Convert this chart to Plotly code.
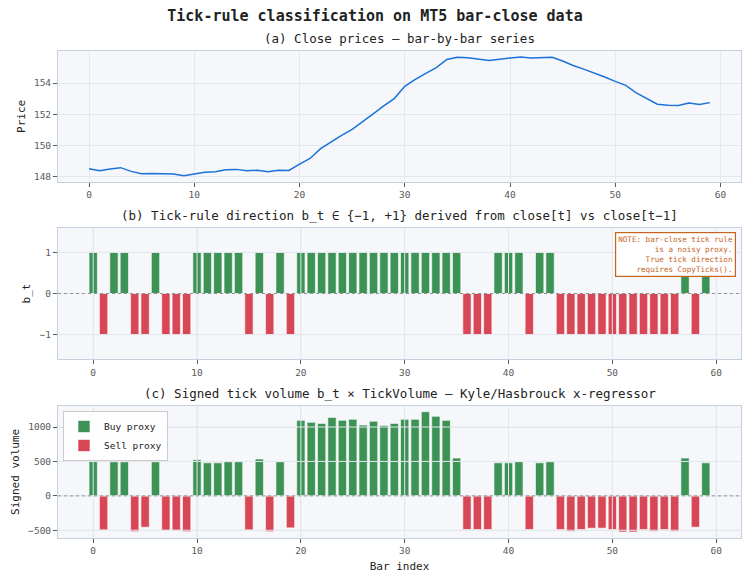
import plotly.graph_objects as go
from plotly.subplots import make_subplots

# ---------------- data ----------------
bar_index = list(range(60))

close_prices = [
    148.51, 148.38, 148.49, 148.58, 148.34, 148.19, 148.21, 148.19, 148.17, 148.06,
    148.19, 148.29, 148.32, 148.44, 148.47, 148.38, 148.41, 148.32, 148.42, 148.40,
    148.81, 149.17, 149.80, 150.25, 150.65, 151.04, 151.52, 152.03, 152.54, 153.01,
    153.80, 154.24, 154.62, 155.00, 155.52, 155.66, 155.63, 155.55, 155.45, 155.53,
    155.62, 155.68, 155.62, 155.64, 155.66, 155.42, 155.13, 154.90, 154.67, 154.39,
    154.11, 153.86, 153.37, 153.01, 152.65, 152.59, 152.56, 152.72, 152.63, 152.75,
]

direction = [
    1, -1, 1, 1, -1, -1, 1, -1, -1, -1,
    1, 1, 1, 1, 1, -1, 1, -1, 1, -1,
    1, 1, 1, 1, 1, 1, 1, 1, 1, 1,
    1, 1, 1, 1, 1, 1, -1, -1, -1, 1,
    1, 1, -1, 1, 1, -1, -1, -1, -1, -1,
    -1, -1, -1, -1, -1, -1, -1, 1, -1, 1,
]

signed_volume = [
    498, -495, 495, 495, -520, -455, 495, -500, -500, -520,
    525, 480, 480, 495, 495, -495, 535, -520, 495, -465,
    1097, 1068, 1053, 1140, 1097, 1112, 1029, 1083, 1024, 1053,
    1112, 1112, 1223, 1155, 1097, 549, -490, -490, -490, 480,
    480, 495, -490, 480, 495, -490, -515, -490, -470, -470,
    -490, -525, -525, -490, -515, -490, -515, 549, -455, 480,
]

x_ticks = [0, 10, 20, 30, 40, 50, 60]
price_ticks = [148, 150, 152, 154]
dir_ticks = [-1, 0, 1]
dir_ticktext = ["\u22121", "0", "1"]
vol_ticks = [-500, 0, 500, 1000]
vol_ticktext = ["\u2212500", "0", "500", "1000"]

main_title = "Tick-rule classification on MT5 bar-close data"
title_a = "(a) Close prices \u2014 bar-by-bar series"
title_b = "(b) Tick-rule direction b_t \u2208 {\u22121, +1} derived from close[t] vs close[t\u22121]"
title_c = "(c) Signed tick volume b_t \u00d7 TickVolume \u2014 Kyle/Hasbrouck x-regressor"
note_text = ("NOTE: bar-close tick rule<br>is a noisy proxy.<br>"
             "True tick direction<br>requires CopyTicks().")

# ---------------- style ----------------
FONT = "DejaVu Sans Mono"
BG = "#f5f7fa"
GRID = "#e3e8ee"
SPINE = "#c6d0dc"
TICKC = "#5a5a5a"
GREEN = "rgba(45,137,72,0.92)"
RED = "rgba(212,55,70,0.92)"
LINE = "#1c72d9"
NOTE = "#c8631e"

fig = make_subplots(rows=3, cols=1)

# (a) close prices
fig.add_trace(go.Scatter(x=bar_index, y=close_prices, mode="lines",
                         line=dict(color=LINE, width=1.5), showlegend=False),
              row=1, col=1)

# (b) direction
bx = [i for i, d in zip(bar_index, direction) if d > 0]
by = [d for d in direction if d > 0]
sx = [i for i, d in zip(bar_index, direction) if d < 0]
sy = [d for d in direction if d < 0]
fig.add_trace(go.Bar(x=bx, y=by, width=0.8, marker=dict(color=GREEN, line=dict(color="white", width=0.6)),
                     showlegend=False), row=2, col=1)
fig.add_trace(go.Bar(x=sx, y=sy, width=0.8, marker=dict(color=RED, line=dict(color="white", width=0.6)),
                     showlegend=False), row=2, col=1)

# (c) signed volume
vbx = [i for i, v in zip(bar_index, signed_volume) if v > 0]
vby = [v for v in signed_volume if v > 0]
vsx = [i for i, v in zip(bar_index, signed_volume) if v < 0]
vsy = [v for v in signed_volume if v < 0]
fig.add_trace(go.Bar(x=vbx, y=vby, width=0.8, name="Buy proxy",
                     marker=dict(color=GREEN, line=dict(color="white", width=0.6))), row=3, col=1)
fig.add_trace(go.Bar(x=vsx, y=vsy, width=0.8, name="Sell proxy",
                     marker=dict(color=RED, line=dict(color="white", width=0.6))), row=3, col=1)

n = len(bar_index)
line_pad = (n - 1) * 0.05
bar_pad = (n - 1 + 0.8) * 0.05
pmin, pmax = min(close_prices), max(close_prices)
ppad = (pmax - pmin) * 0.05
vmin, vmax = min(signed_volume), max(signed_volume)
vpad = (vmax - vmin) * 0.05

axis_common = dict(showgrid=True, gridcolor=GRID, gridwidth=1, zeroline=False,
                   showline=True, linecolor=SPINE, linewidth=1, mirror=True,
                   ticks="outside", ticklen=4, tickcolor=TICKC, tickwidth=1,
                   tickfont=dict(family=FONT, size=9.5, color=TICKC))

fig.update_xaxes(**axis_common, tickvals=x_ticks)
fig.update_yaxes(**axis_common)

fig.update_layout(
    xaxis=dict(range=[-line_pad, n - 1 + line_pad], showticklabels=True),
    xaxis2=dict(range=[-0.4 - bar_pad, n - 1 + 0.4 + bar_pad]),
    xaxis3=dict(range=[-0.4 - bar_pad, n - 1 + 0.4 + bar_pad],
                title=dict(text="Bar index", font=dict(family=FONT, size=11, color="#222"), standoff=6)),
    yaxis=dict(domain=[0.7316, 1.0], range=[pmin - ppad, pmax + ppad], tickvals=price_ticks,
               title=dict(text="Price", font=dict(family=FONT, size=11, color="#222"), standoff=6)),
    yaxis2=dict(domain=[0.3669, 0.6372], range=[-1.6, 1.6], tickvals=dir_ticks, ticktext=dir_ticktext,
                title=dict(text="b_t", font=dict(family=FONT, size=11, color="#222"), standoff=6)),
    yaxis3=dict(domain=[0.0, 0.2717], range=[vmin - vpad, vmax + vpad], tickvals=vol_ticks,
                ticktext=vol_ticktext,
                title=dict(text="Signed volume", font=dict(family=FONT, size=11, color="#222"), standoff=6)),
    barmode="overlay",
    plot_bgcolor=BG,
    paper_bgcolor="white",
    width=750, height=582,
    margin=dict(l=58, r=9, t=51, b=44),
    font=dict(family=FONT, color="#222"),
    title=dict(text="<b>" + main_title + "</b>", x=0.5, xref="container", xanchor="center",
               y=1 - 16 / 582, yref="container", yanchor="middle",
               font=dict(family=FONT, size=15, color="#222")),
    legend=dict(x=0.0073, y=0.2608, xanchor="left", yanchor="top",
                bgcolor="rgba(255,255,255,0.85)", bordercolor="#cccccc", borderwidth=1,
                font=dict(family=FONT, size=9.5, color="#222"), itemwidth=30,
                tracegroupgap=0),
)

# gridlines drawn above bars (as in the reference)
for r, yt in ((2, dir_ticks), (3, vol_ticks)):
    for xv in x_ticks:
        fig.add_vline(x=xv, row=r, col=1, line=dict(color=GRID, width=1), layer="above")
    for yv in yt:
        fig.add_hline(y=yv, row=r, col=1, line=dict(color=GRID, width=1), layer="above")
    fig.add_hline(y=0, row=r, col=1, line=dict(color="#8a8a8a", width=0.9, dash="dot"), layer="above")

# subplot titles
for ydom_top, txt in ((1.0, title_a), (0.6372, title_b), (0.2717, title_c)):
    fig.add_annotation(text=txt, xref="paper", yref="paper", x=0.5, y=ydom_top,
                       xanchor="center", yanchor="bottom", yshift=3, showarrow=False,
                       font=dict(family=FONT, size=12.5, color="#222"))

# note box in panel (b)
fig.add_annotation(text=note_text, xref="x2 domain", yref="y2 domain", x=0.993, y=0.967,
                   xanchor="right", yanchor="top", align="right", showarrow=False,
                   font=dict(family=FONT, size=7.6, color=NOTE),
                   bgcolor="white", bordercolor=NOTE, borderwidth=1.2, borderpad=2)

fig.write_html("out.html")
